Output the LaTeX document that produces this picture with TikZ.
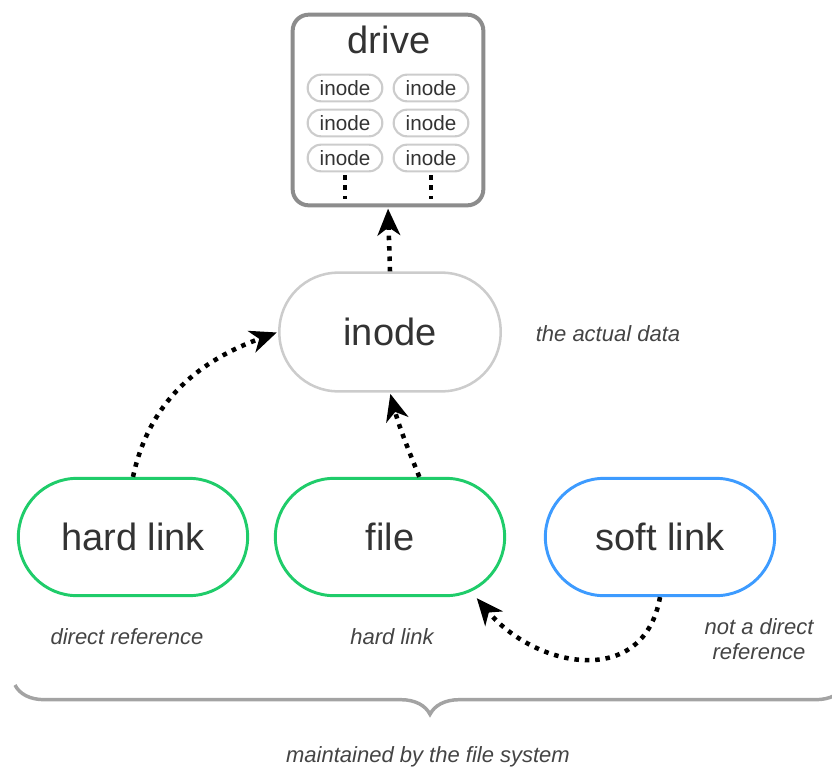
\documentclass[tikz,border=0pt]{standalone}
\usepackage{fontspec}
\setmainfont{Liberation Sans}
\usetikzlibrary{arrows.meta,decorations.pathreplacing}
\definecolor{txtgrey}{HTML}{333333}
\definecolor{notegrey}{HTML}{444444}
\definecolor{boxgrey}{HTML}{8C8C8C}
\definecolor{lightgrey}{HTML}{CCCCCC}
\definecolor{linkgreen}{HTML}{1FCC6A}
\definecolor{linkblue}{HTML}{3D9BFF}
\begin{document}
\begin{tikzpicture}[x=0.75pt,y=-0.75pt,
  pill/.style={draw, rectangle, line width=2.2pt, minimum width=172pt, minimum height=88pt, rounded corners=44pt, text=txtgrey, font=\fontsize{28.5}{30}\selectfont},
  smallino/.style={draw=lightgrey, rectangle, line width=1.6pt, minimum width=56pt, minimum height=20pt, inner sep=0pt, rounded corners=10pt, text=txtgrey, font=\fontsize{15.5}{17}\selectfont},
  note/.style={text=notegrey, font=\fontsize{16.5}{19}\selectfont\itshape, align=center},
  link/.style={line width=3.4pt, dash pattern=on 3.4pt off 4.4pt, -{Stealth[length=20pt,width=17pt,inset=6pt]}, shorten >=1pt},
  vdots/.style={line width=3.4pt, dash pattern=on 3.4pt off 4.4pt}]
\useasboundingbox (0,0) rectangle (832,768);
% drive with its inodes
\node[draw=boxgrey, line width=3pt, rectangle, rounded corners=12pt, minimum width=143pt, minimum height=143pt] (drive) at (388,110){};
\node[text=txtgrey, font=\fontsize{28.5}{30}\selectfont] (title) at (389,40){drive};
\node[smallino] (ino1) at (345,88){inode};
\node[smallino] (ino2) at (431,88){inode};
\node[smallino] (ino3) at (345,123){inode};
\node[smallino] (ino4) at (431,123){inode};
\node[smallino] (ino5) at (345,158){inode};
\node[smallino] (ino6) at (431,158){inode};
\draw[vdots] ([yshift=-2pt]ino5.south) -- ++(0,24);
\draw[vdots] ([yshift=-2pt]ino6.south) -- ++(0,24);
% inode and links
\node[pill, draw=lightgrey, line width=1.9pt, minimum width=166pt, minimum height=89pt, rounded corners=44pt] (inode) at (390,332){inode};
\node[note] (data) at (608,334){the actual data};
\node[pill, draw=linkgreen] (hardlink) at (133,537){hard link};
\node[pill, draw=linkgreen] (file) at (390,537){file};
\node[pill, draw=linkblue] (softlink) at (660,537){soft link};
\node[note] (direct) at (127,637){direct reference};
\node[note] (hard) at (392,637){hard link};
\node[note] (notdirect) at (759,639){not a direct\\reference};
\draw[link] (inode.north) -- (drive.south);
\draw[link] (hardlink.north) to[out=78,in=200] (inode.west);
\draw[link] ([xshift=22pt]file.north) to[out=112,in=-75] (inode.south);
\draw[link] (softlink.south) to[out=-100,in=-50,looseness=1.3] (file.-35);
% brace
\draw[boxgrey!80, line width=2.6pt, decorate, decoration={brace,mirror,amplitude=22pt,aspect=0.5}] (15,685) -- (845,685);
\node[note] (fs) at (428,757){maintained by the file system};
\end{tikzpicture}
\end{document}
